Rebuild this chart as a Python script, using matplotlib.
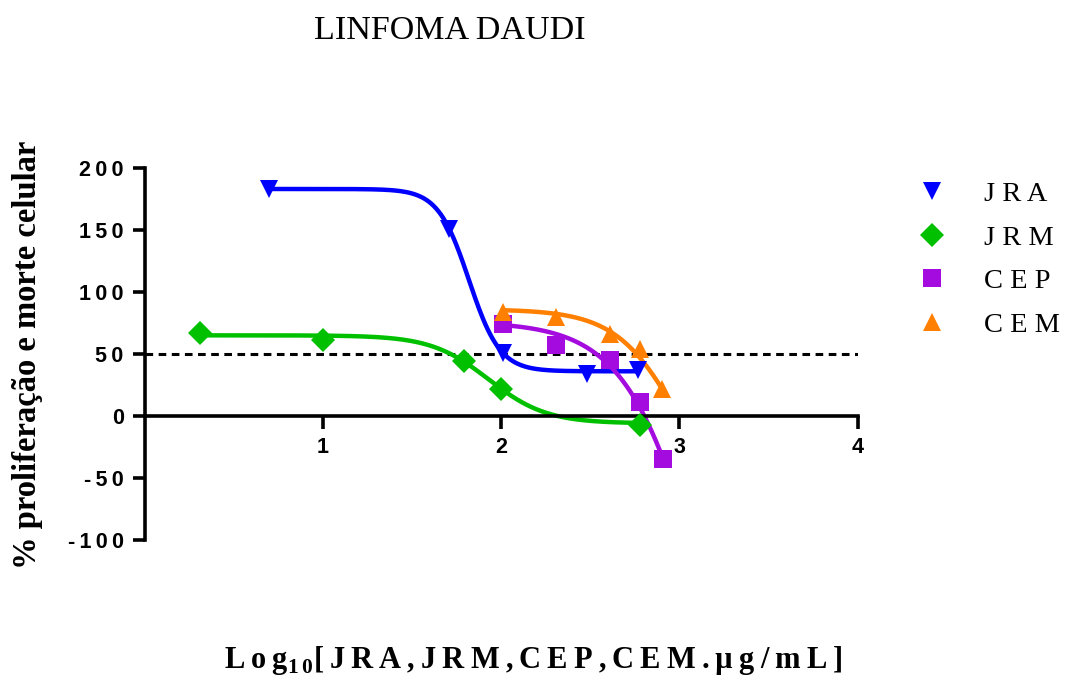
import numpy as np
import matplotlib
matplotlib.use("Agg")
import matplotlib.pyplot as plt
from matplotlib.lines import Line2D

plt.rcParams['mathtext.fontset'] = 'custom'
plt.rcParams['mathtext.rm'] = 'Liberation Serif'
plt.rcParams['mathtext.bf'] = 'Liberation Serif:bold'

# Log10 concentration (x) and % proliferation / cell death (y)
jra_x = [0.70, 1.71, 2.01, 2.48, 2.77]
jra_y = [183, 151, 51, 34, 37]
jrm_x = [0.31, 1.00, 1.79, 2.00, 2.78]
jrm_y = [67, 61, 44, 22, -7]
cep_x = [2.01, 2.31, 2.61, 2.78, 2.91]
cep_y = [74, 57, 45, 11, -35]
cem_x = [2.01, 2.31, 2.61, 2.78, 2.90]
cem_y = [84, 80, 66, 54, 22]

# Four-parameter logistic fits: (top, bottom, logEC50, hill slope)
jra_fit = (183, 36, 1.82, 5.0)
jrm_fit = (65, -6, 1.93, 2.68)
cep_fit = (76, -400, 3.179, 1.92)
cem_fit = (86, -100, 3.02, 2.38)

labels = ["JRA", "JRM", "CEP", "CEM"]
colors = ["#0000FF", "#00C000", "#A40BDF", "#FF7F00"]
markers = ["v", "D", "s", "^"]
msizes = [13.5, 12.5, 13.5, 13.5]


def logistic(x, top, bottom, c, h):
    return bottom + (top - bottom) / (1 + 10 ** ((x - c) * h))


def spaced(s, sep="\u2009"):
    return sep.join(s)


fig = plt.figure(figsize=(10.65, 6.77), dpi=100)
ax = fig.add_axes([0.1357, 0.2024, 0.6696, 0.5496])

series = [(jra_x, jra_y, jra_fit), (jrm_x, jrm_y, jrm_fit),
          (cep_x, cep_y, cep_fit), (cem_x, cem_y, cem_fit)]

ax.axhline(50, color="black", lw=2.2, ls=(0, (2.5, 1.8)), zorder=1)

for (xs, ys, fit), col, mk, ms in zip(series, colors, markers, msizes):
    xx = np.linspace(min(xs), max(xs), 300)
    ax.plot(xx, logistic(xx, *fit), color=col, lw=3.2, zorder=2,
            solid_capstyle="round")
    ax.plot(xs, ys, ls="none", marker=mk, ms=ms, color=col,
            markeredgewidth=0, zorder=3, clip_on=False)

ax.set_xlim(0, 4)
ax.set_ylim(-100, 200)
ax.spines['top'].set_visible(False)
ax.spines['right'].set_visible(False)
ax.spines['bottom'].set_position(('data', 0))
for s in ('left', 'bottom'):
    ax.spines[s].set_linewidth(2.6)

ax.set_xticks([1, 2, 3, 4])
ax.set_yticks([-100, -50, 0, 50, 100, 150, 200])
tick_font = dict(family="Liberation Sans", weight="bold", size=15.5)
ax.set_xticklabels([spaced(str(v)) for v in [1, 2, 3, 4]], fontdict=tick_font)
ax.set_yticklabels([spaced(str(v)) for v in [-100, -50, 0, 50, 100, 150, 200]],
                   fontdict=tick_font)
ax.tick_params(axis='both', direction='out', length=9, width=2.6, pad=6)
ax.tick_params(axis='y', pad=6)

fig.text(0.4225, 0.955, "LINFOMA DAUDI", ha="center", va="center",
         family="Liberation Serif", size=24.5)

fig.text(0.026, 0.476, "% proliferação e morte celular", rotation=90,
         ha="center", va="center", family="Liberation Serif",
         weight="bold", size=23.5)

xlabel = (spaced("Log") + r"$_{\mathbf{1\,0}}$" + spaced("[JRA,JRM,CEP,CEM.µg/mL]"))
fig.text(0.5005, 0.024, xlabel, ha="center", va="center",
         family="Liberation Serif", weight="bold", size=22)

handles = [Line2D([], [], ls="none", marker=mk, ms=ms * 0.95, color=col,
                  markeredgewidth=0)
           for col, mk, ms in zip(colors, markers, msizes)]
fig.legend(handles, [spaced(l, " ") for l in labels], loc="upper left",
           bbox_to_anchor=(0.838, 0.77), frameon=False,
           prop=dict(family="Liberation Serif", size=20.5),
           handlelength=1.0, handletextpad=1.3, labelspacing=0.62)

fig.savefig("out.png", dpi=100)
